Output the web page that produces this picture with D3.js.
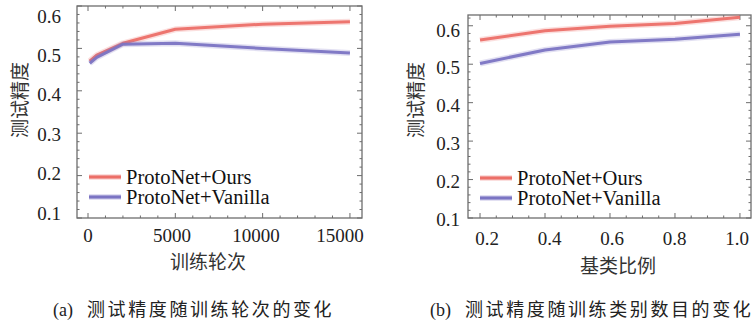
<!DOCTYPE html>
<html><head><meta charset="utf-8">
<script src="https://cdn.jsdelivr.net/npm/d3@7"></script>
<style>
html,body{margin:0;padding:0;background:#fff;}
svg{display:block;}
</style></head>
<body>
<svg id="chart" width="756" height="323"></svg>
<script>
// ---- data ----
const seriesNames = ["ProtoNet+Ours", "ProtoNet+Vanilla"];
const iterSteps = [100, 500, 2000, 5000, 10000, 15000];
const iterOurs = [0.470, 0.484, 0.512, 0.545, 0.557, 0.563];
const iterVanilla = [0.465, 0.479, 0.510, 0.512, 0.500, 0.489];
const baseRatio = [0.2, 0.4, 0.6, 0.8, 1.0];
const ratioOurs = [0.563, 0.587, 0.599, 0.606, 0.622];
const ratioVanilla = [0.502, 0.537, 0.558, 0.565, 0.578];
const yTickValues = [0.1, 0.2, 0.3, 0.4, 0.5, 0.6];
const xTicksA = [0, 5000, 10000, 15000];
const xTicksB = [0.2, 0.4, 0.6, 0.8, 1.0];
const yLabelText = "测试精度";
const xLabelA = "训练轮次";
const xLabelB = "基类比例";
const captionA = ["(a)", "测试精度随训练轮次的变化"];
const captionB = ["(b)", "测试精度随训练类别数目的变化"];

const colors = ["#ec6f68", "#7b74c3"];
const svg = d3.select("#chart");
const serif = "'Liberation Serif','Times New Roman',serif";
const cjk = "'Noto Sans CJK SC','Noto Sans CJK JP',sans-serif";

function panel(o) {
  const x = d3.scaleLinear().domain(o.xDomain).range([o.left, o.right]);
  const y = d3.scaleLinear().domain(o.yDomain).range([o.bottom, o.top]);
  const xLab = d3.scaleLinear().domain(o.xLabDomain).range(o.xLabRange);
  const yLab = d3.scaleLinear().domain([0.1, 0.6]).range(o.yLabRange);
  const g = svg.append("g");
  const frameColor = "#6d6d6d";

  // ticks (inside, mirrored on all sides)
  const mk = (scale, vals, len) => vals;
  const yMinor = d3.range(0.1, o.yDomain[1] + 1e-9, 0.02);
  const xMinor = d3.range(o.xMinorStart, o.xDomain[1] + 1e-9, o.xMinorStep);
  const tickG = g.append("g").attr("stroke", frameColor).attr("stroke-width", 1);
  yMinor.forEach(v => {
    const major = yTickValues.some(t => Math.abs(t - v) < 1e-6);
    const len = major ? 5 : 2.5;
    tickG.append("line").attr("x1", o.left).attr("x2", o.left + len).attr("y1", y(v)).attr("y2", y(v));
    tickG.append("line").attr("x1", o.right).attr("x2", o.right - len).attr("y1", y(v)).attr("y2", y(v));
  });
  xMinor.forEach(v => {
    if (v < o.xDomain[0]) return;
    const major = o.xTicks.some(t => Math.abs(t - v) < 1e-6);
    const len = major ? 5 : 2.5;
    tickG.append("line").attr("y1", o.bottom).attr("y2", o.bottom - len).attr("x1", x(v)).attr("x2", x(v));
    tickG.append("line").attr("y1", o.top).attr("y2", o.top + len).attr("x1", x(v)).attr("x2", x(v));
  });

  // frame
  g.append("rect").attr("x", o.left).attr("y", o.top)
    .attr("width", o.right - o.left).attr("height", o.bottom - o.top)
    .attr("fill", "none").attr("stroke", frameColor).attr("stroke-width", 1.3);

  // tick labels
  g.append("g").selectAll("text").data(yTickValues).join("text")
    .attr("x", o.yLabX).attr("y", d => yLab(d)).attr("dy", "0.35em")
    .attr("text-anchor", "end").attr("font-family", serif).attr("font-size", 19).attr("fill", "#222")
    .text(d => d3.format(".1f")(d));
  g.append("g").selectAll("text").data(o.xTicks).join("text")
    .attr("x", d => xLab(d)).attr("y", o.xLabY).attr("dy", "0.35em")
    .attr("text-anchor", "middle").attr("font-family", serif).attr("font-size", 19).attr("fill", "#222")
    .text(d => o.xFormat(d));

  // lines
  const line = d3.line().x(d => x(d[0])).y(d => y(d[1]));
  o.series.forEach((vals, i) => {
    const pts = o.xs.map((xv, k) => [xv, vals[k]]);
    g.append("path").attr("d", line(pts)).attr("fill", "none")
      .attr("stroke", colors[i]).attr("stroke-width", 6).attr("stroke-opacity", 0.22)
      .attr("stroke-linejoin", "round");
    g.append("path").attr("d", line(pts)).attr("fill", "none")
      .attr("stroke", colors[i]).attr("stroke-width", 3).attr("stroke-opacity", 0.95)
      .attr("stroke-linejoin", "round");
  });

  // legend
  seriesNames.forEach((name, i) => {
    const ly = o.legY + i * 20;
    g.append("line").attr("x1", o.legX).attr("x2", o.legX + 32).attr("y1", ly).attr("y2", ly)
      .attr("stroke", colors[i]).attr("stroke-width", 6).attr("stroke-opacity", 0.22);
    g.append("line").attr("x1", o.legX).attr("x2", o.legX + 32).attr("y1", ly).attr("y2", ly)
      .attr("stroke", colors[i]).attr("stroke-width", 3.2);
    g.append("text").attr("x", o.legX + 37).attr("y", ly).attr("dy", "0.35em")
      .attr("font-family", serif).attr("font-size", 20.5).attr("fill", "#111").text(name);
  });

  // axis titles
  g.append("text").attr("transform", `translate(${o.yTitleX},100) rotate(-90)`)
    .attr("text-anchor", "middle").attr("dy", "0.35em")
    .attr("font-family", cjk).attr("font-size", 19).attr("fill", "#333").text(yLabelText);
  g.append("text").attr("x", o.xTitleX).attr("y", o.xTitleY).attr("dy", "0.35em")
    .attr("text-anchor", "middle").attr("font-family", cjk).attr("font-size", 19).attr("fill", "#333")
    .text(o.xTitle);

  // caption
  const cap = g.append("text").attr("x", o.capX).attr("y", 310).attr("dy", "0.35em").attr("fill", "#222");
  cap.append("tspan").attr("font-family", serif).attr("font-size", 18).text(o.caption[0]);
  cap.append("tspan").attr("dx", 14).attr("font-family", cjk).attr("font-size", 18)
    .attr("letter-spacing", "2.6px").text(o.caption[1]);
}

panel({
  left: 77, right: 362, top: 6, bottom: 218,
  xDomain: [-630, 15690], yDomain: [0.1, 0.6],
  xTicks: xTicksA, xMinorStart: 0, xMinorStep: 1000,
  xLabDomain: [0, 15000], xLabRange: [88, 340], xLabY: 235,
  yLabRange: [213, 16], yLabX: 61,
  xFormat: d3.format("d"),
  xs: iterSteps, series: [iterOurs, iterVanilla],
  legX: 89, legY: 177,
  yTitleX: 20, xTitle: xLabelA, xTitleX: 208, xTitleY: 262,
  caption: captionA, capX: 53
});

panel({
  left: 468, right: 751, top: 15, bottom: 218,
  xDomain: [0.163, 1.034], yDomain: [0.1, 0.628],
  xTicks: xTicksB, xMinorStart: 0.2, xMinorStep: 0.05,
  xLabDomain: [0.2, 1.0], xLabRange: [487, 737], xLabY: 238,
  yLabRange: [219, 30], yLabX: 460,
  xFormat: d3.format(".1f"),
  xs: baseRatio, series: [ratioOurs, ratioVanilla],
  legX: 480, legY: 178,
  yTitleX: 416, xTitle: xLabelB, xTitleX: 618, xTitleY: 266,
  caption: captionB, capX: 430
});
</script>
</body></html>
